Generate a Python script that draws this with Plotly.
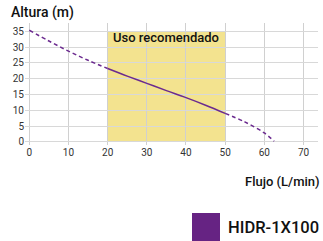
import plotly.graph_objects as go

flow = [0, 5, 10, 15, 20, 25, 30, 35, 40, 45, 50, 55, 60, 62.5]
height = [35.3, 31.9, 28.7, 25.8, 23.2, 20.8, 18.5, 16.2, 14.0, 11.6, 9.0, 6.3, 2.8, 0.2]
rec_range = [20, 50]
rec_label = "Uso recomendado"
model = "HIDR-1X100"
x_ticks = [0, 10, 20, 30, 40, 50, 60, 70]
y_ticks = [0, 5, 10, 15, 20, 25, 30, 35]

FONT = "Roboto, Liberation Sans, sans-serif"
PURPLE = "#6b2a8f"

i0 = flow.index(rec_range[0])
i1 = flow.index(rec_range[1])

fig = go.Figure()
fig.add_shape(type="rect", x0=rec_range[0], x1=rec_range[1], y0=0, y1=35,
              fillcolor="#f3e38f", line_width=0, layer="below")
fig.add_trace(go.Scatter(x=flow[:i0+1], y=height[:i0+1], mode="lines",
                         line=dict(color=PURPLE, width=1.5, dash="4px,3px", shape="spline")))
fig.add_trace(go.Scatter(x=flow[i0:i1+1], y=height[i0:i1+1], mode="lines",
                         line=dict(color=PURPLE, width=1.5, shape="spline")))
fig.add_trace(go.Scatter(x=flow[i1:], y=height[i1:], mode="lines",
                         line=dict(color=PURPLE, width=1.5, dash="4px,3px", shape="spline")))

fig.add_annotation(x=sum(rec_range)/2, y=33.0, text=rec_label, showarrow=False,
                   font=dict(family=FONT, size=13, color="#111", weight=500), xref="x", yref="y")
fig.add_annotation(x=0, y=1, xref="paper", yref="paper", xanchor="left", yanchor="bottom",
                   xshift=-16, yshift=0, text="Altura (m)", showarrow=False,
                   font=dict(family=FONT, size=14, color="#111", weight=500))
fig.add_annotation(x=1, y=0, xref="paper", yref="paper", xanchor="right", yanchor="top",
                   xshift=4, yshift=-27, text="Flujo (L/min)", showarrow=False,
                   font=dict(family=FONT, size=13, color="#111", weight=500))
# legend
fig.add_shape(type="rect", xref="paper", yref="paper", x0=(192-25)/293, x1=(220-25)/293,
              y0=(145-241)/122, y1=(145-213)/122, fillcolor="#662383", line_width=0)
fig.add_annotation(x=1, y=(145-227)/122, xref="paper", yref="paper", xanchor="right",
                   yanchor="middle", xshift=3, text=model, showarrow=False,
                   font=dict(family=FONT, size=16.5, color="#111", weight=500))

fig.update_layout(width=323, height=241, margin=dict(l=25, r=5, t=23, b=96),
                  plot_bgcolor="white", paper_bgcolor="white", showlegend=False,
                  font=dict(family=FONT, size=10, color="#333"))
fig.update_xaxes(range=[-1.1, 73.7], tickvals=x_ticks, showgrid=True, gridcolor="#d0d0d0",
                 gridwidth=1, zeroline=False, showline=False, ticks="", fixedrange=True,
                 automargin=False)
fig.update_yaxes(range=[-1, 37.6], tickvals=y_ticks, showgrid=True, gridcolor="#d8d8d8",
                 gridwidth=1, zeroline=False, showline=False, ticks="", fixedrange=True,
                 automargin=False)
fig.write_html("out.html", config={"displayModeBar": False},
               post_script="document.body.style.margin='0';")
